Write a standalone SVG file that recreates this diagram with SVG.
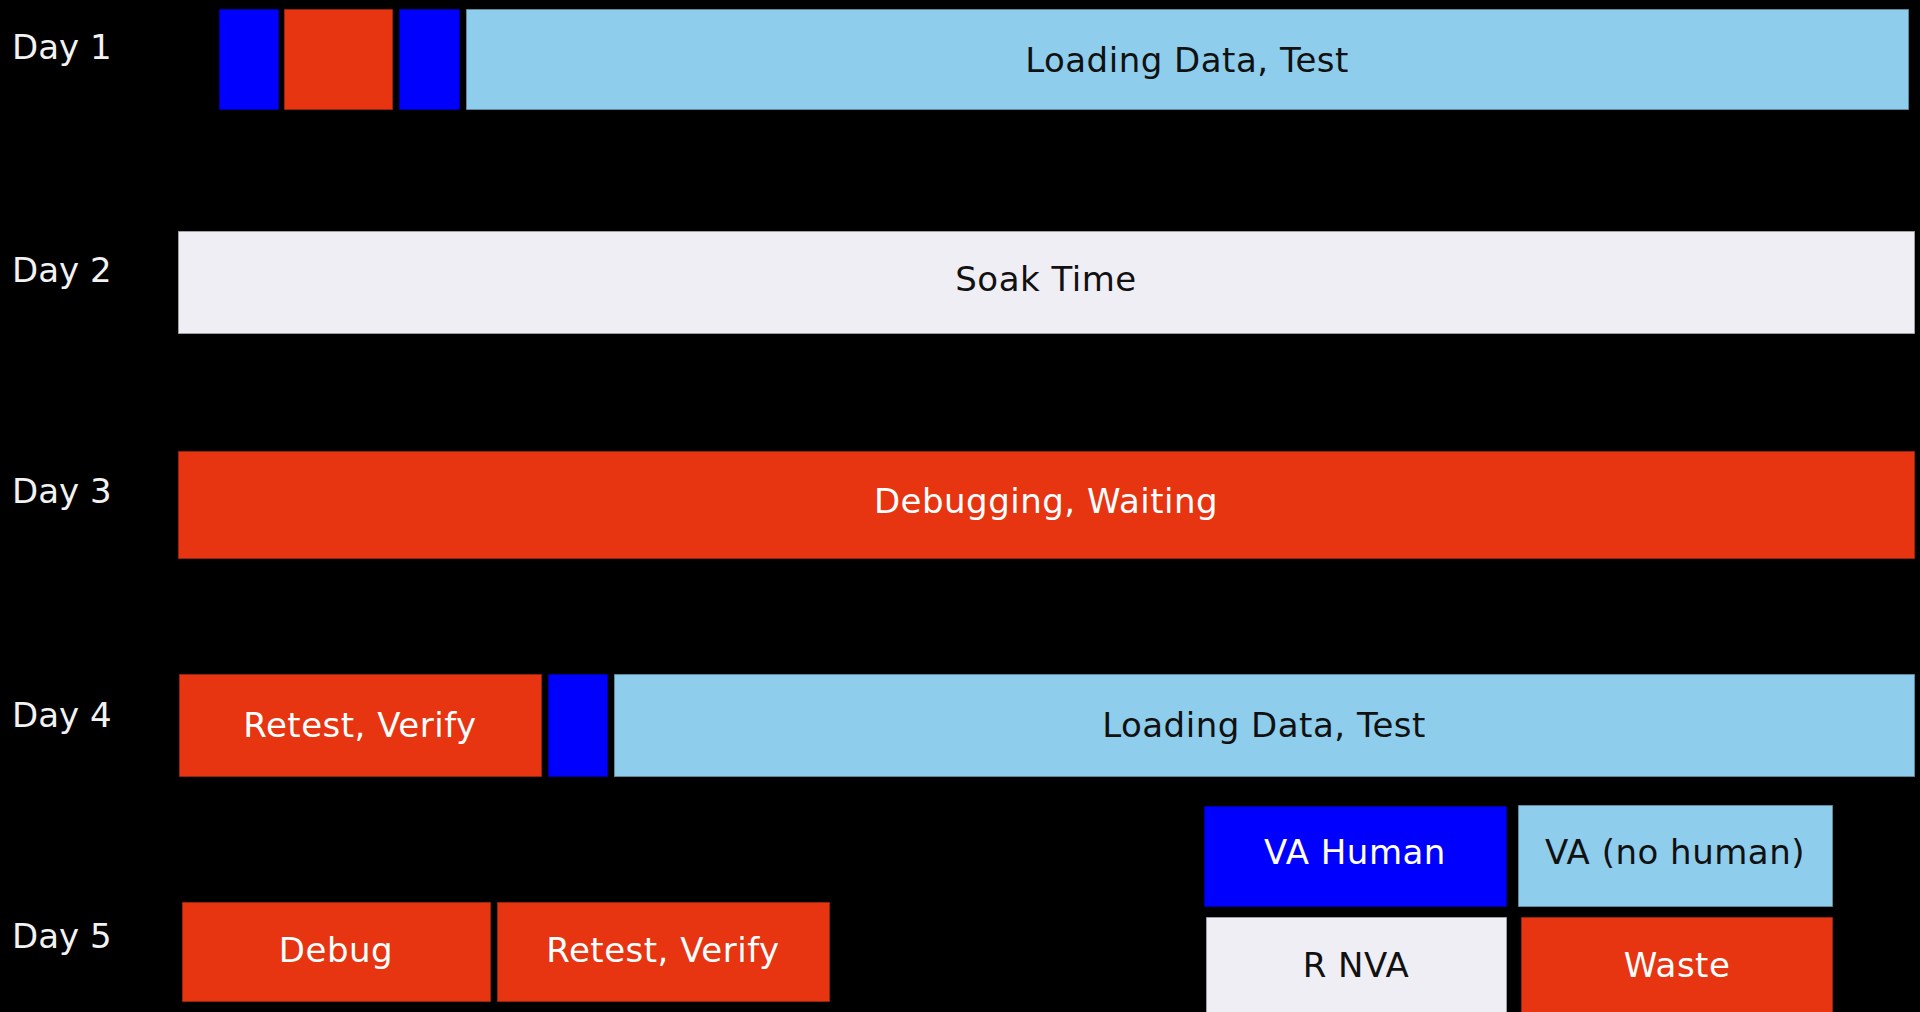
<svg xmlns="http://www.w3.org/2000/svg" width="1920" height="1012" viewBox="0 0 1920 1012">
  <style>
    .bar { stroke: #000; stroke-opacity: 0.45; stroke-width: 1.5; }
    .vah { fill: #0000ff; }
    .va { fill: #8ecdeb; }
    .rnva { fill: #f0eef5; }
    .waste { fill: #e73411; }
    text { font-family: "DejaVu Sans", "Liberation Sans", sans-serif; font-size: 34px; }
    .lbl { fill: #f2f2f2; }
    .light, .dark { text-anchor: middle; letter-spacing: 0.5px; }
    .light { fill: #ffffff; }
    .dark { fill: #111111; }
  </style>
  <rect width="1920" height="1012" fill="#000"/>

  <!-- day labels -->
  <g id="day-labels">
    <text class="lbl" x="12" y="59">Day 1</text>
    <text class="lbl" x="12" y="282">Day 2</text>
    <text class="lbl" x="12" y="503">Day 3</text>
    <text class="lbl" x="12" y="727">Day 4</text>
    <text class="lbl" x="12" y="948">Day 5</text>
  </g>

  <!-- day 1 -->
  <g id="d1-human-a"><rect class="bar vah" x="219" y="9" width="60" height="101"/></g>
  <g id="d1-waste"><rect class="bar waste" x="284" y="9" width="109" height="101"/></g>
  <g id="d1-human-b"><rect class="bar vah" x="399" y="9" width="61" height="101"/></g>
  <g id="d1-load">
    <rect class="bar va" x="466" y="9" width="1443" height="101"/>
    <text class="dark" x="1187" y="72">Loading Data, Test</text>
  </g>

  <!-- day 2 -->
  <g id="d2-soak">
    <rect class="bar rnva" x="178" y="231" width="1737" height="103"/>
    <text class="dark" x="1046" y="291">Soak Time</text>
  </g>

  <!-- day 3 -->
  <g id="d3-debug">
    <rect class="bar waste" x="178" y="451" width="1737" height="108"/>
    <text class="light" x="1046" y="513">Debugging, Waiting</text>
  </g>

  <!-- day 4 -->
  <g id="d4-retest">
    <rect class="bar waste" x="179" y="674" width="363" height="103"/>
    <text class="light" x="360" y="737">Retest, Verify</text>
  </g>
  <g id="d4-human"><rect class="bar vah" x="548" y="674" width="60" height="103"/></g>
  <g id="d4-load">
    <rect class="bar va" x="614" y="674" width="1301" height="103"/>
    <text class="dark" x="1264" y="737">Loading Data, Test</text>
  </g>

  <!-- day 5 -->
  <g id="d5-debug">
    <rect class="bar waste" x="182" y="902" width="309" height="100"/>
    <text class="light" x="336" y="962">Debug</text>
  </g>
  <g id="d5-retest">
    <rect class="bar waste" x="497" y="902" width="333" height="100"/>
    <text class="light" x="663" y="962">Retest, Verify</text>
  </g>

  <!-- legend -->
  <g id="legend-va-human">
    <rect class="bar vah" x="1204" y="806" width="303" height="101"/>
    <text class="light" x="1355" y="864">VA Human</text>
  </g>
  <g id="legend-va">
    <rect class="bar va" x="1518" y="805" width="315" height="102"/>
    <text class="dark" x="1675" y="864">VA (no human)</text>
  </g>
  <g id="legend-rnva">
    <rect class="bar rnva" x="1206" y="917" width="301" height="110"/>
    <text class="dark" x="1356" y="977">R NVA</text>
  </g>
  <g id="legend-waste">
    <rect class="bar waste" x="1521" y="917" width="312" height="110"/>
    <text class="light" x="1677" y="977">Waste</text>
  </g>

  <g id="connectors"/>
</svg>
